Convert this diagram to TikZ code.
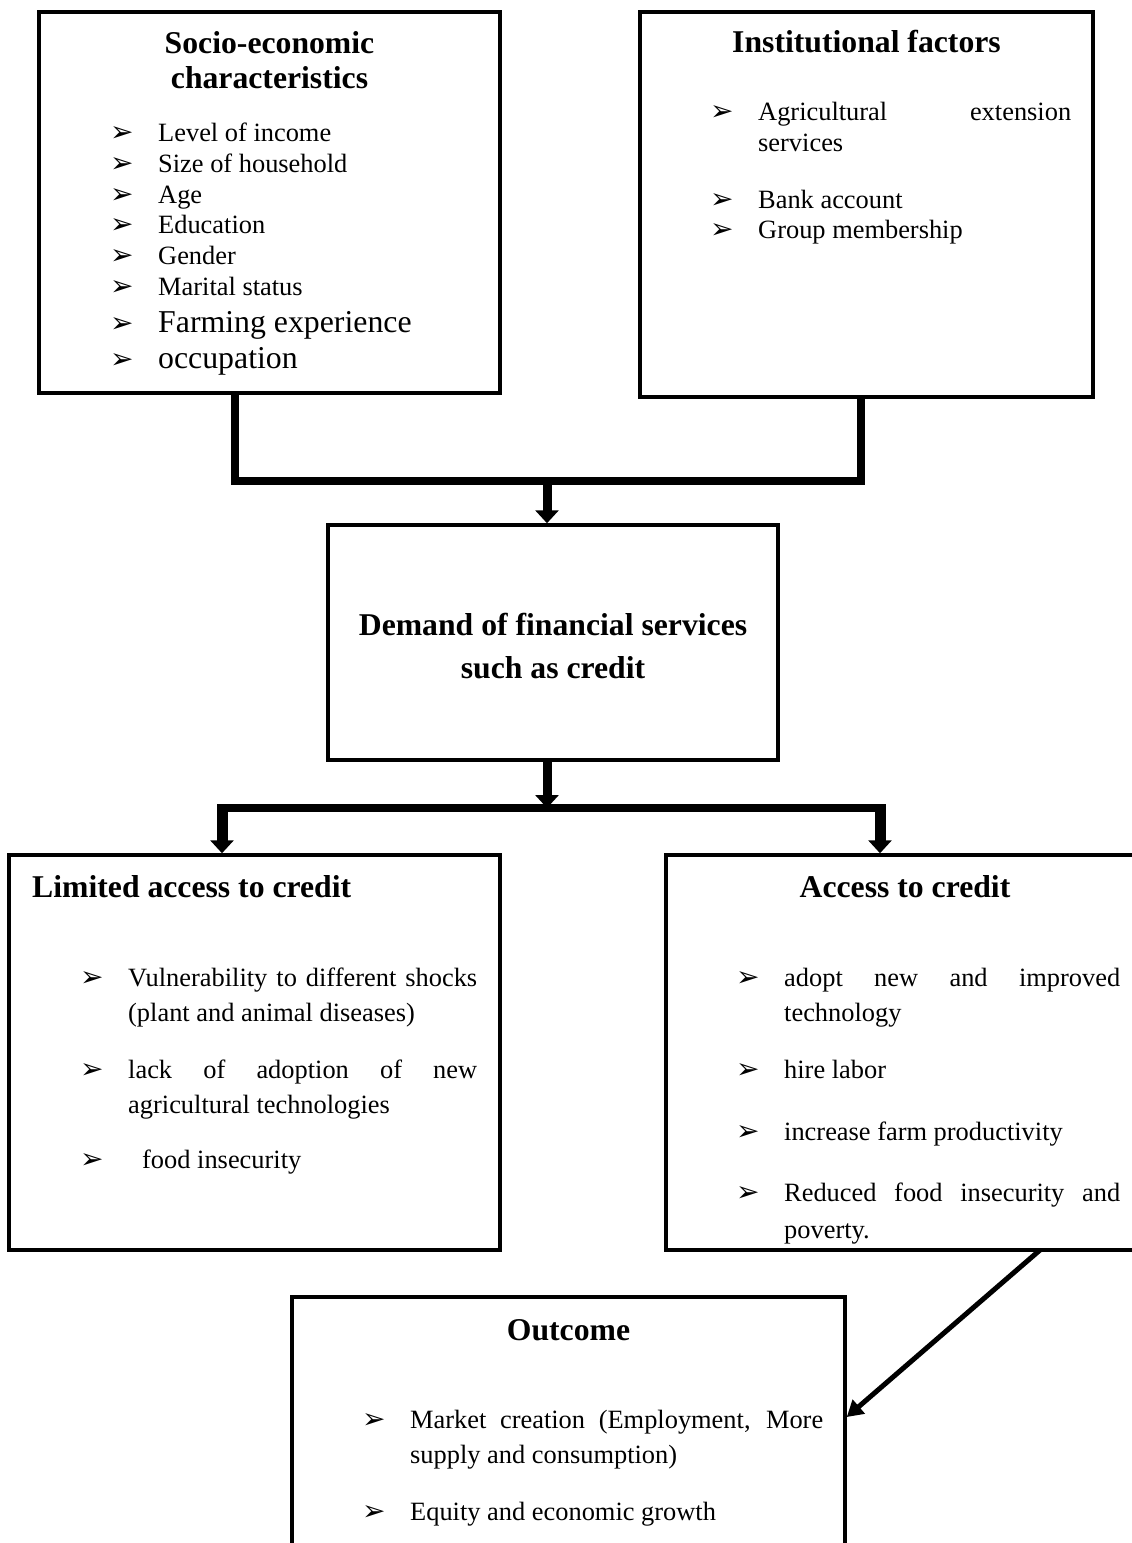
\documentclass[tikz,border=0pt]{standalone}
\usepackage{fontspec}
\setmainfont{Liberation Serif}
\newfontfamily\symfont{DejaVu Sans}
\usetikzlibrary{arrows.meta, positioning, calc}

\begin{document}
\begin{tikzpicture}[x=1pt, y=-1pt,
    box/.style={draw, line width=3.5pt, inner sep=0pt},
    head/.style={font=\fontsize{31.7}{36}\selectfont\bfseries, inner sep=0pt, anchor=base},
    item/.style={font=\fontsize{26.4}{31}\selectfont, inner sep=0pt, anchor=base west},
    bigitem/.style={font=\fontsize{31.8}{36}\selectfont, inner sep=0pt, anchor=base west},
    tick/.style={font=\symfont\fontsize{28}{30}\selectfont, inner sep=0pt, anchor=base west},
    link/.style={line width=8pt},
    flow/.style={line width=9pt, -{Triangle[width=23pt,length=13pt]}},
    slant/.style={line width=5pt, -{Triangle[width=18pt,length=16pt]}}
]
    \useasboundingbox (0,0) rectangle (1132,1543);
    \clip (0,0) rectangle (1132,1543);

    % Boxes
    \node[box, minimum width=461pt, minimum height=381pt] (socio) at (269.5,202.5) {};
    \node[box, minimum width=453pt, minimum height=385pt] (inst) at (866.5,204.5) {};
    \node[box, minimum width=450pt, minimum height=235pt] (demand) at (553,642.5) {};
    \node[box, minimum width=491pt, minimum height=395pt] (limited) at (254.5,1052.5) {};
    \node[box, minimum width=478pt, minimum height=395pt] (access) at (905,1052.5) {};
    \node[box, minimum width=553pt, minimum height=300pt] (outcome) at (568.5,1447) {};

    % Socio-economic characteristics
    \node[head] (socio-t1) at (269.5,53) {Socio-economic};
    \node[head] (socio-t2) at (269.5,88) {characteristics};
    \foreach \t/\y [count=\i] in {Level of income/133, Size of household/164, Age/195,
        Education/225, Gender/256, Marital status/287} {
        \node[tick] (socio-b\i) at (110,\y+8) {➢};
        \node[item] (socio-i\i) at (158,\y+8) {\t};
    }
    \node[tick] (socio-b7) at (110,332) {➢};
    \node[bigitem] (socio-i7) at (158,332) {Farming experience};
    \node[tick] (socio-b8) at (110,368) {➢};
    \node[bigitem] (socio-i8) at (158,368) {occupation};

    % Institutional factors
    \node[head] (inst-t) at (866.5,52) {Institutional factors};
    \node[tick] (inst-b1) at (710,120) {➢};
    \node[item] (inst-i1) at (758,120) {\makebox[313pt][s]{Agricultural extension}};
    \node[item] (inst-i1b) at (758,151) {services};
    \node[tick] (inst-b2) at (710,208) {➢};
    \node[item] (inst-i2) at (758,208) {Bank account};
    \node[tick] (inst-b3) at (710,238) {➢};
    \node[item] (inst-i3) at (758,238) {Group membership};

    % Demand
    \node[head] (demand-t1) at (553,635) {Demand of financial services};
    \node[head] (demand-t2) at (553,678) {such as credit};

    % Limited access to credit
    \node[head, anchor=base west] (limited-t) at (32,897) {Limited access to credit};
    \node[tick] (limited-b1) at (80,986) {➢};
    \node[item] (limited-i1) at (128,986) {\makebox[349pt][s]{Vulnerability to different shocks}};
    \node[item] (limited-i1b) at (128,1021) {(plant and animal diseases)};
    \node[tick] (limited-b2) at (80,1078) {➢};
    \node[item] (limited-i2) at (128,1078) {\makebox[349pt][s]{lack of adoption of new}};
    \node[item] (limited-i2b) at (128,1113) {agricultural technologies};
    \node[tick] (limited-b3) at (80,1168) {➢};
    \node[item] (limited-i3) at (142,1168) {food insecurity};

    % Access to credit
    \node[head] (access-t) at (905,897) {Access to credit};
    \node[tick] (access-b1) at (736,986) {➢};
    \node[item] (access-i1) at (784,986) {\makebox[336pt][s]{adopt new and improved}};
    \node[item] (access-i1b) at (784,1021) {technology};
    \node[tick] (access-b2) at (736,1078) {➢};
    \node[item] (access-i2) at (784,1078) {hire labor};
    \node[tick] (access-b3) at (736,1140) {➢};
    \node[item] (access-i3) at (784,1140) {increase farm productivity};
    \node[tick] (access-b4) at (736,1201) {➢};
    \node[item] (access-i4) at (784,1201) {\makebox[336pt][s]{Reduced food insecurity and}};
    \node[item] (access-i4b) at (784,1238) {poverty.};

    % Outcome
    \node[head] (outcome-t) at (568.5,1340) {Outcome};
    \node[tick] (outcome-b1) at (362,1428) {➢};
    \node[item] (outcome-i1) at (410,1428) {\makebox[413pt][s]{Market creation (Employment, More}};
    \node[item] (outcome-i1b) at (410,1463) {supply and consumption)};
    \node[tick] (outcome-b2) at (362,1520) {➢};
    \node[item] (outcome-i2) at (410,1520) {Equity and economic growth};

    % Junctions
    \coordinate (top-l) at (235,481);
    \coordinate (top-r) at (861,481);
    \coordinate (top-m) at (547,481);
    \coordinate (mid-l) at (222,808);
    \coordinate (mid-r) at (880,808);
    \coordinate (mid-m) at (547,808);
    \coordinate (diag) at (1040,1250);

    % Lines
    \draw[link] (socio.south -| top-l) -- (top-l) -- (top-r) -- (inst.south -| top-r);
    \draw[flow] (top-m) -- (demand.north -| top-m);
    \draw[flow] (demand.south -| mid-m) -- (mid-m);
    \draw[link] (mid-l) -- (mid-r);
    \draw[flow, line width=11pt] ([yshift=4pt]mid-l) -- (limited.north -| mid-l);
    \draw[flow, line width=11pt] ([yshift=4pt]mid-r) -- (access.north -| mid-r);
    \draw[slant] (diag) -- (outcome.east |- 0,1417);
\end{tikzpicture}
\end{document}
